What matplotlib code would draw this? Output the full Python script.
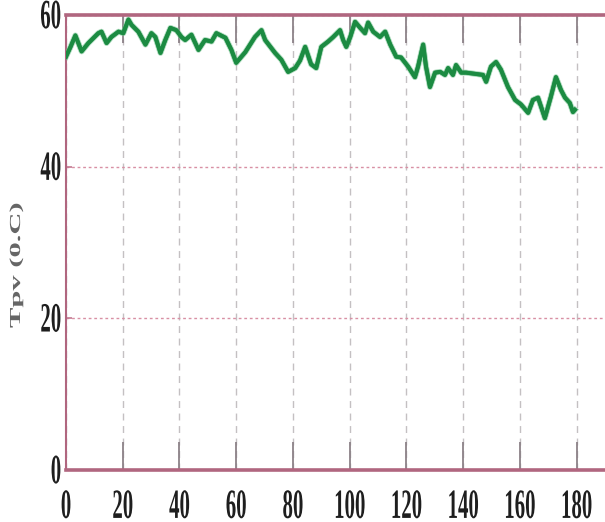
import matplotlib
matplotlib.use("Agg")
import matplotlib.pyplot as plt
from matplotlib.patheffects import AbstractPathEffect, withStroke, Normal
from matplotlib.transforms import Affine2D

# PV module temperature over time
time_s = [0, 1.6, 3.3, 5.5, 7.9, 11.4, 12.5, 14.3, 16.0, 18.5, 20.2, 22.0, 23.1,
          25.5, 28.0, 30.1, 31.5, 33.3, 35.0, 36.8, 38.9, 40.7, 42.0, 44.2, 46.7,
          49.0, 51.3, 53.0, 56.2, 58.3, 60.0, 63.2, 66.6, 68.9, 70.2, 73.7, 75.9,
          78.3, 80.8, 82.5, 84.3, 86.4, 88.2, 90.0, 92.4, 94.2, 96.6, 97.7, 98.8,
          100.2, 101.9, 103.7, 105.4, 106.5, 108.3, 110.7, 112.5, 114.3, 116.4,
          118.1, 120.6, 123.0, 124.1, 125.9, 126.9, 128.3, 130.1, 131.9, 133.6,
          134.7, 136.4, 137.5, 139.3, 141.0, 147.0, 148.1, 149.8, 151.6, 153.3,
          155.8, 158.3, 160.4, 162.9, 164.6, 166.4, 168.8, 170.9, 172.7, 174.5,
          175.9, 177.6, 178.7, 179.4]
tpv = [54.5, 55.8, 57.3, 55.2, 56.3, 57.6, 57.8, 56.3, 57.1, 57.8, 57.6, 59.4, 58.7,
       57.8, 56.1, 57.6, 57.1, 55.0, 56.7, 58.3, 58.0, 57.1, 56.7, 57.4, 55.4,
       56.7, 56.5, 57.6, 57.0, 55.4, 53.7, 55.1, 57.1, 58.0, 56.7, 55.0, 54.1,
       52.5, 53.0, 54.0, 55.8, 53.5, 53.0, 55.8, 56.5, 57.1, 58.0, 56.7, 55.8,
       57.1, 59.1, 58.3, 57.6, 59.0, 57.8, 57.1, 57.8, 56.1, 54.5,
       54.4, 53.2, 51.8, 53.2, 56.1, 53.2, 50.5, 52.4, 52.5, 52.1,
       53.0, 52.1, 53.4, 52.4, 52.4, 52.1, 51.2, 53.2, 53.8, 52.8,
       50.5, 48.8, 48.2, 47.1, 48.8, 49.1, 46.4, 49.2, 51.8, 50.1,
       49.1, 48.4, 47.2, 47.5]

x_ticks = [0, 20, 40, 60, 80, 100, 120, 140, 160, 180]
y_ticks = [0, 20, 40, 60]
y_label = "Tpv (0.C)"


class Stretch(AbstractPathEffect):
    """Scale text glyphs in their own coordinates (tall, narrow lettering)."""

    def __init__(self, sx=1.0, sy=1.0, offset=(0, 0)):
        super().__init__(offset)
        self._scale = Affine2D().scale(sx, sy)

    def draw_path(self, renderer, gc, tpath, affine, rgbFace=None):
        renderer.draw_path(gc, tpath,
                           self._scale + affine + self._offset_transform(renderer),
                           rgbFace)


serif = ["Liberation Serif", "DejaVu Serif"]
spine_col = "#b0667f"

fig = plt.figure(figsize=(6.05, 5.22), dpi=100)
ax = fig.add_axes([66 / 605, 52 / 522, 1 - 66 / 605, 455 / 522])

ax.plot(time_s, tpv, color="#1c8b42", lw=2.8, solid_joinstyle="round",
        path_effects=[withStroke(linewidth=4.2, foreground="#6fc08c", alpha=0.6), Normal()],
        zorder=5)

ax.set_xlim(0, 190)
ax.set_ylim(0, 60)

ax.xaxis.grid(True, color="#c4c0c2", linestyle=(0, (5, 4)), linewidth=1.0)
ax.yaxis.grid(True, color="#d890a4", linestyle=(0, (2, 2)), linewidth=1.0)

ax.set_xticks(x_ticks, labels=[str(v) for v in x_ticks], va="baseline",
              fontfamily=serif, fontweight="bold", fontsize=15, color="#1e1e1e",
              path_effects=[Stretch(1.0, 2.0)])
ax.set_yticks(y_ticks, labels=[str(v) for v in y_ticks], va="baseline",
              fontfamily=serif, fontweight="bold", fontsize=15, color="#1e1e1e",
              path_effects=[Stretch(1.0, 2.0, offset=(0, -9.5))])

ax.tick_params(axis="x", direction="in", length=20, width=1.3, color="#8c8288",
               top=True, bottom=True, pad=34.5)
ax.tick_params(axis="y", direction="in", length=4, width=1.2, color="#c47a92",
               left=True, right=False, pad=3.5)

for side in ("top", "bottom"):
    ax.spines[side].set_color(spine_col)
    ax.spines[side].set_linewidth(2.6)
ax.spines["left"].set_color(spine_col)
ax.spines["left"].set_linewidth(1.5)
ax.spines["right"].set_visible(False)

fig.text(20 / 605, (522 - 328) / 522, y_label, rotation=90, rotation_mode="anchor",
         ha="left", va="baseline", fontsize=11, fontweight="bold",
         fontfamily=serif, color="#666666", path_effects=[Stretch(2.0, 1.0)])

fig.savefig("out.png", dpi=100)
